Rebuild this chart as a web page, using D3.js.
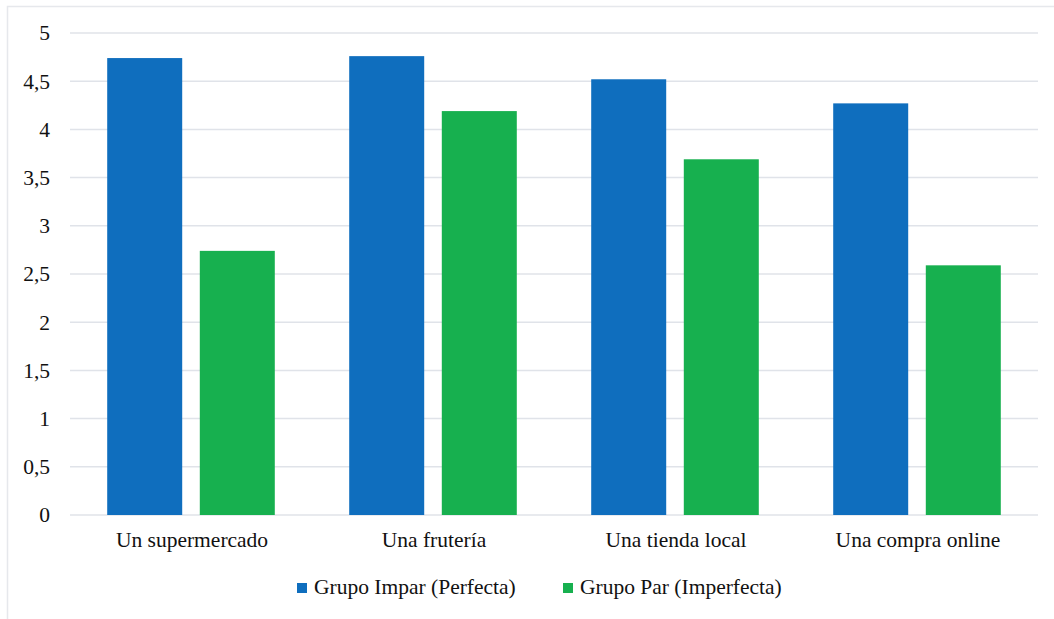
<!DOCTYPE html>
<html>
<head>
<meta charset="utf-8">
<script src="https://cdn.jsdelivr.net/npm/d3@7"></script>
</head>
<body style="margin:0;padding:0;background:#ffffff">
<svg id="chart" width="1054" height="619" style="display:block"></svg>
<script>
// Categories and series
const categories = ["Un supermercado", "Una frutería", "Una tienda local", "Una compra online"];
const seriesNames = ["Grupo Impar (Perfecta)", "Grupo Par (Imperfecta)"];
const grupoImpar = [4.74, 4.76, 4.52, 4.27];
const grupoPar = [2.74, 4.19, 3.69, 2.59];
const yTicks = [0, 0.5, 1, 1.5, 2, 2.5, 3, 3.5, 4, 4.5, 5];
const colors = ["#0F6EBE", "#17B04F"];

const FONT = "Liberation Serif";
const FONT_SIZE = "21.5px";

const seriesValues = [grupoImpar, grupoPar];
const rows = categories.map((c, i) => ({
  category: c,
  values: seriesNames.map((s, j) => ({ series: s, idx: j, value: seriesValues[j][i] }))
}));

const svg = d3.select("#chart");
const plot = { left: 70, right: 1038, top: 33, bottom: 515 };

// Outer frame (top and left edges visible)
svg.append("path")
  .attr("d", "M7.5,620 V6.5 H1055")
  .attr("fill", "none")
  .attr("stroke", "#E6E8EC")
  .attr("stroke-width", 1.5);

const y = d3.scaleLinear().domain([0, 5]).range([plot.bottom, plot.top]);

const x0 = d3.scaleBand()
  .domain(categories)
  .range([plot.left, plot.right])
  .paddingInner(0.3075)
  .paddingOuter(0.15375);

const x1 = d3.scaleBand()
  .domain(seriesNames)
  .range([0, x0.bandwidth()])
  .paddingInner(0.19)
  .paddingOuter(0);

const locale = d3.formatLocale({ decimal: ",", thousands: ".", grouping: [3], currency: ["", "€"] });
const fmt = locale.format("~g");

// Gridlines
svg.append("g")
  .selectAll("line")
  .data(yTicks)
  .join("line")
  .attr("x1", plot.left)
  .attr("x2", plot.right)
  .attr("y1", d => y(d))
  .attr("y2", d => y(d))
  .attr("stroke", "#E0E3E9")
  .attr("stroke-width", 1.5);

// Y axis labels
const yAxis = d3.axisLeft(y).tickValues(yTicks).tickFormat(fmt).tickSize(0).tickPadding(0);
const yg = svg.append("g").attr("transform", `translate(${plot.left - 20},0)`).call(yAxis);
yg.attr("font-family", FONT);
yg.select(".domain").remove();
yg.selectAll("text")
  .style("font-family", FONT)
  .style("font-size", FONT_SIZE)
  .attr("fill", "#111");

// Bars
const groups = svg.append("g")
  .selectAll("g")
  .data(rows)
  .join("g")
  .attr("transform", d => `translate(${x0(d.category)},0)`);

groups.selectAll("rect")
  .data(d => d.values)
  .join("rect")
  .attr("x", d => x1(d.series))
  .attr("width", x1.bandwidth())
  .attr("y", d => y(d.value))
  .attr("height", d => y(0) - y(d.value))
  .attr("fill", d => colors[d.idx]);

// X axis labels
const xAxisScale = d3.scaleBand().domain(categories).range([plot.left, plot.right]);
const xAxis = d3.axisBottom(xAxisScale).tickSize(0).tickPadding(0);
const xg = svg.append("g").attr("transform", `translate(1,${plot.bottom})`).call(xAxis);
xg.attr("font-family", FONT);
xg.select(".domain").remove();
xg.selectAll("text")
  .attr("dy", null)
  .attr("y", 32)
  .style("font-family", FONT)
  .style("font-size", FONT_SIZE)
  .attr("fill", "#111");

// Legend
const legendX = [297, 563];
const legend = svg.append("g")
  .attr("font-family", FONT)
  .selectAll("g")
  .data(seriesNames)
  .join("g")
  .attr("transform", (d, i) => `translate(${legendX[i]},583)`);
legend.append("rect")
  .attr("width", 10)
  .attr("height", 10)
  .attr("fill", (d, i) => colors[i]);
legend.append("text")
  .attr("x", 17)
  .attr("y", 10.5)
  .style("font-family", FONT)
  .style("font-size", FONT_SIZE)
  .attr("fill", "#111")
  .text(d => d);
</script>
</body>
</html>
